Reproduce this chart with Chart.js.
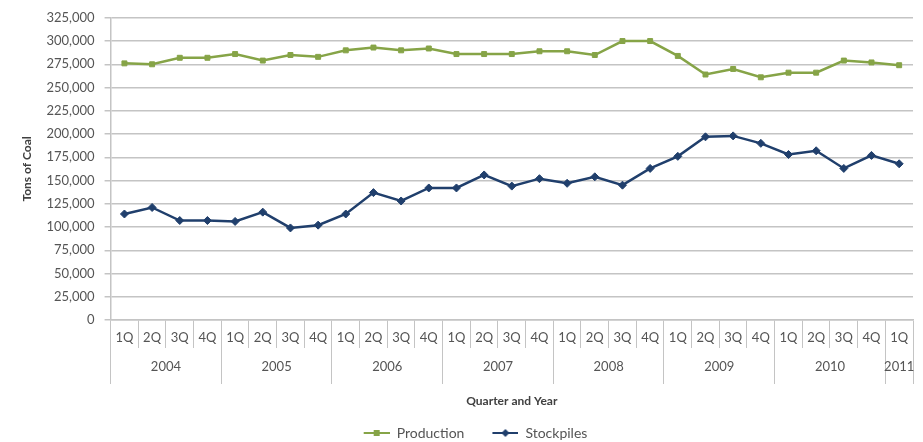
<!DOCTYPE html>
<html lang="en">
  <head>
    <meta charset="UTF-8" />
    <title>Coal Production and Stockpiles</title>
    <script src="https://cdn.jsdelivr.net/npm/chart.js@4.4.0/dist/chart.umd.min.js"></script>
    <style>
      html, body { margin: 0; padding: 0; background: #fff; }
      #wrap { width: 923px; height: 442px; }
    </style>
  </head>
  <body>
    <div id="wrap"><canvas id="chart" width="923" height="442"></canvas></div>

    <script>
      //data
      const quarters = [
        '1Q', '2Q', '3Q', '4Q', '1Q', '2Q', '3Q', '4Q', '1Q', '2Q', '3Q', '4Q',
        '1Q', '2Q', '3Q', '4Q', '1Q', '2Q', '3Q', '4Q', '1Q', '2Q', '3Q', '4Q',
        '1Q', '2Q', '3Q', '4Q', '1Q'
      ];
      const years = ['2004', '2005', '2006', '2007', '2008', '2009', '2010', '2011'];
      const quartersPerYear = [4, 4, 4, 4, 4, 4, 4, 1];

      const production = [
        276000, 275000, 282000, 282000, 286000, 279000, 285000, 283000,
        290000, 293000, 290000, 292000, 286000, 286000, 286000, 289000,
        289000, 285000, 300000, 300000, 284000, 264000, 270000, 261000,
        266000, 266000, 279000, 277000, 274000
      ];
      const stockpiles = [
        114000, 121000, 107000, 107000, 106000, 116000, 99000, 102000,
        114000, 137000, 128000, 142000, 142000, 156000, 144000, 152000,
        147000, 154000, 145000, 163000, 176000, 197000, 198000, 190000,
        178000, 182000, 163000, 177000, 168000
      ];

      const GREEN = '#86a447';
      const BLUE = '#203f6c';
      const GRID = '#c4c4c4';
      const TEXT = '#555555';
      const FONT = 'Lato, "Open Sans", sans-serif';

      // year axis ticks: boundaries and centers of each year group
      const yearTicks = [0];
      const yearLabelAt = {};
      const boundaries = new Set([0]);
      let pos = 0;
      years.forEach((yr, i) => {
        const mid = pos + quartersPerYear[i] / 2;
        yearTicks.push(mid);
        yearLabelAt[mid] = yr;
        pos += quartersPerYear[i];
        yearTicks.push(pos);
        boundaries.add(pos);
      });

      // legend swatch: short line with the series marker (blank space on the left acts as item gap)
      function swatch(color, style) {
        const c = document.createElement('canvas');
        c.width = 44;
        c.height = 10;
        const g = c.getContext('2d');
        g.strokeStyle = color;
        g.lineWidth = 2;
        g.beginPath();
        g.moveTo(18, 5);
        g.lineTo(44, 5);
        g.stroke();
        g.fillStyle = color;
        if (style === 'rect') {
          g.fillRect(28, 2, 6, 6);
        } else {
          g.beginPath();
          g.moveTo(31, 1);
          g.lineTo(35, 5);
          g.lineTo(31, 9);
          g.lineTo(27, 5);
          g.closePath();
          g.fill();
        }
        return c;
      }

      const data = {
        labels: quarters,
        datasets: [
          {
            label: 'Production',
            data: production,
            borderColor: GREEN,
            backgroundColor: GREEN,
            borderWidth: 2.5,
            pointStyle: 'rect',
            pointRadius: 3.5,
            pointBorderWidth: 1,
            tension: 0,
            legendIcon: swatch(GREEN, 'rect')
          },
          {
            label: 'Stockpiles',
            data: stockpiles,
            borderColor: BLUE,
            backgroundColor: BLUE,
            borderWidth: 2.5,
            pointStyle: 'rectRot',
            pointRadius: 4,
            pointBorderWidth: 1,
            tension: 0,
            legendIcon: swatch(BLUE, 'rectRot')
          }
        ]
      };

      //config
      const config = {
        type: 'line',
        data: data,
        options: {
          responsive: false,
          animation: false,
          layout: { padding: { left: 20, right: 10, top: 1, bottom: -8 } },
          plugins: {
            legend: {
              position: 'bottom',
              labels: {
                color: TEXT,
                font: { family: FONT, size: 14 },
                usePointStyle: true,
                pointStyleWidth: 44,
                boxHeight: 10,
                padding: 10,
                generateLabels: function (chart) {
                  return chart.data.datasets.map((ds, i) => ({
                    text: ds.label,
                    pointStyle: ds.legendIcon,
                    fillStyle: ds.borderColor,
                    strokeStyle: ds.borderColor,
                    lineWidth: 0,
                    fontColor: TEXT,
                    datasetIndex: i
                  }));
                }
              }
            },
            tooltip: { enabled: false }
          },
          scales: {
            x: {
              type: 'category',
              offset: true,
              grid: {
                offset: true,
                drawOnChartArea: false,
                color: GRID,
                tickLength: 28
              },
              border: { color: GRID, width: 1.5 },
              ticks: {
                color: TEXT,
                font: { family: FONT, size: 13 },
                autoSkip: false,
                maxRotation: 0,
                padding: -18
              },
              // keep the box tall enough for labels that sit between the separators
              afterFit: function (axis) {
                axis.height = 28;
              }
            },
            x2: {
              type: 'linear',
              position: 'bottom',
              min: 0,
              max: quarters.length,
              offset: false,
              afterBuildTicks: function (axis) {
                axis.ticks = yearTicks.map((v) => ({ value: v }));
              },
              grid: {
                drawOnChartArea: false,
                tickLength: 36,
                color: (ctx) => (ctx.tick && boundaries.has(ctx.tick.value) ? GRID : 'rgba(0,0,0,0)')
              },
              border: { display: false },
              ticks: {
                color: TEXT,
                font: { family: FONT, size: 13 },
                autoSkip: false,
                maxRotation: 0,
                padding: -25,
                callback: (v) => yearLabelAt[v] || ''
              },
              title: {
                display: true,
                text: 'Quarter and Year',
                color: '#404040',
                font: { family: FONT, size: 12, weight: 'bold' },
                padding: { top: 4, bottom: 8 }
              },
              afterFit: function (axis) {
                axis.height = 68;
              }
            },
            y: {
              min: 0,
              max: 325000,
              grid: { color: GRID, lineWidth: 1.5, tickLength: 6 },
              border: { color: GRID, width: 1.5 },
              ticks: {
                stepSize: 25000,
                color: TEXT,
                font: { family: FONT, size: 13 },
                padding: 10
              },
              title: {
                display: true,
                text: 'Tons of Coal',
                color: '#404040',
                font: { family: FONT, size: 12, weight: 'bold' },
                padding: { top: 0, bottom: 2 }
              }
            }
          }
        }
      };

      //init
      const ctx = document.getElementById('chart');
      const chart = new Chart(ctx, config);
    </script>
  </body>
</html>
